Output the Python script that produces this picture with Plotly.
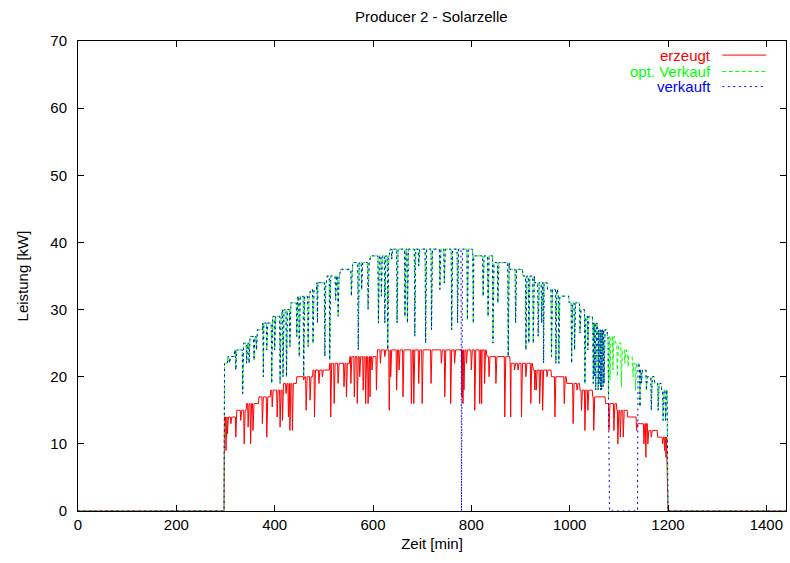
import numpy as np
import plotly.graph_objects as go

MINUTES = 1440

# ---- erzeugt (produced) : step levels [kW] and start minute of each level
RED_START = [298, 321, 343, 368, 392, 417, 445, 478, 512, 553, 608, 831, 879, 925, 963, 994, 1021, 1047, 1073, 1096, 1118, 1136, 1160, 1179]
RED_LEVEL = [14, 15, 16, 17, 18, 19, 20, 21, 22, 23, 24, 23, 22, 21, 20, 19, 18, 17, 16, 15, 14, 13, 12, 11]
RED_END = 1199
# short drops (minute, kW)
RED_DIP_T = [301, 304, 311, 321, 331, 338, 346, 351, 356, 375, 384, 395, 405, 411, 416, 423, 428, 431, 436,
             459, 464, 472, 481, 490, 497, 514, 521, 529, 541, 546,
             555, 562, 568, 573, 580, 585, 590, 594, 598, 607, 615, 624, 633, 636, 648, 653, 661, 678, 683,
             693, 700, 718, 739, 746, 758, 766, 781, 783, 785, 790, 800,
             807, 817, 821, 827, 836, 850, 868, 880, 888, 895, 902, 911, 921, 929, 932, 939, 945, 954, 970,
             989, 1007, 1015, 1024, 1031, 1037, 1049, 1080, 1090, 1098, 1103, 1109, 1136, 1141, 1151, 1155,
             1159, 1166, 1189, 1193, 1196, 1198]
RED_DIP_V = [9, 11.5, 13, 11, 13.5, 10, 12.5, 10, 12, 13, 11, 15.5, 14, 12.5, 13.5, 17.5, 14, 12, 12,
             19.5, 15, 16.5, 14, 19, 20, 14, 16, 19, 18.5, 17,
             19, 17, 16, 20, 18, 16, 16, 17, 21, 18, 22, 23, 15, 20, 18, 21, 17, 16, 16,
             19, 16, 19, 22, 17, 16, 22, 17, 16, 18, 22, 21,
             15, 16, 16, 19, 20, 19, 14, 14, 21, 21, 14, 20, 16, 18, 18, 16, 15, 20, 14,
             16, 13, 18, 15, 12, 15, 12, 12, 12, 10, 11, 11, 12, 13, 10, 8,
             10, 11, 10, 9, 8, 7]

# ---- opt. Verkauf (optimal sale)
GREEN_START = [298, 305, 319, 336, 350, 364, 376, 394, 415, 431, 445, 472, 486, 506, 533, 559, 594, 634,
               803, 844, 878, 905, 929, 955, 976, 999, 1021, 1031, 1047, 1057, 1077, 1092, 1106, 1116,
               1128, 1142, 1157, 1173, 1187]
GREEN_LEVEL = [22, 23, 24, 25, 26, 27, 28, 29, 30, 31, 32, 33, 34, 35, 36, 37, 38, 39,
               38, 37, 36, 35, 34, 33, 32, 31, 30, 29, 28, 27, 26, 25, 24, 23,
               22, 21, 20, 19, 18]
GREEN_END = 1199
GREEN_DIP_T = [308, 321, 335, 343, 348, 358, 363, 377, 384, 394, 400, 411, 417, 424, 431, 445, 450, 459,
               468, 478, 487, 502, 512, 524, 529,
               556, 570, 577, 590, 611, 617, 624, 630, 638, 649, 665, 670, 685, 693, 707, 719, 736, 745,
               760, 772, 792,
               804, 824, 834, 844, 854, 875, 890, 911, 917, 926, 936, 943, 947, 963, 972, 978, 1004,
               1010, 1021, 1031, 1037, 1048, 1050, 1053, 1058, 1060, 1063, 1065, 1068, 1070,
               1079, 1082, 1088, 1097, 1105, 1112, 1119, 1129, 1134, 1143, 1146, 1156, 1166, 1180, 1190, 1195]
GREEN_DIP_V = [22, 21, 17.5, 22, 22, 22.5, 24, 20, 24, 19, 24, 19, 20, 20, 24.5, 26, 23, 20,
               24.5, 25, 28, 23, 22.5, 31.4, 29,
               32, 24, 33, 30, 28, 32, 28, 24, 37.5, 28, 29, 28, 26, 36.5, 25, 27, 33, 34,
               27, 28, 28.5,
               28, 32, 29, 25, 31, 23, 28, 24, 25, 25, 26, 28, 22, 23, 22, 22, 22,
               24, 26.5, 19, 24, 19, 20, 18, 18, 19, 18, 18, 18.5, 19,
               17, 19.5, 21, 20, 18.5, 22, 21.5, 20, 18, 15.5, 19, 18, 15, 15, 13.5, 13.5]

# ---- verkauft (sold): equals opt. Verkauf except where nothing was sold
BLUE_ZERO_T = [780]
BLUE_ZERO_FROM = [1080]
BLUE_ZERO_TO = [1139]

X_TICKS = [0, 200, 400, 600, 800, 1000, 1200, 1400]
Y_TICKS = [0, 10, 20, 30, 40, 50, 60, 70]


def build(starts, levels, end, dip_t, dip_v):
    y = np.zeros(MINUTES)
    for i, s in enumerate(starts):
        e = starts[i + 1] if i + 1 < len(starts) else end
        y[s:e] = levels[i]
    for t, v in zip(dip_t, dip_v):
        y[t] = min(y[t], v)
    return y


t = np.arange(MINUTES)
red = build(RED_START, RED_LEVEL, RED_END, RED_DIP_T, RED_DIP_V)
green = build(GREEN_START, GREEN_LEVEL, GREEN_END, GREEN_DIP_T, GREEN_DIP_V)
blue = green.copy()
for z in BLUE_ZERO_T:
    blue[z] = 0
for a, b in zip(BLUE_ZERO_FROM, BLUE_ZERO_TO):
    blue[a:b] = 0

GREEN_DASH = "4px,2.5px"
BLUE_DASH = "2px,3.5px"

FONT = "Liberation Sans, Arial, Helvetica, sans-serif"
fig = go.Figure()
fig.add_trace(go.Scatter(x=t, y=red, mode="lines", name="erzeugt",
                         line=dict(color="#ff0000", width=1)))
fig.add_trace(go.Scatter(x=t, y=green, mode="lines", name="opt. Verkauf",
                         line=dict(color="#00ff00", width=1, dash=GREEN_DASH)))
fig.add_trace(go.Scatter(x=t, y=blue, mode="lines", name="verkauft",
                         line=dict(color="#0000ff", width=1, dash=BLUE_DASH)))

# gnuplot-like key: right-aligned text, sample to the right
legend = [("erzeugt", "#ff0000", "solid", 0.970),
          ("opt. Verkauf", "#00ff00", GREEN_DASH, 0.935),
          ("verkauft", "#0000ff", BLUE_DASH, 0.903)]
for name, col, dash, yy in legend:
    fig.add_annotation(x=0.895, y=yy, xref="paper", yref="paper", text=name, showarrow=False,
                       xanchor="right", yanchor="middle", borderpad=0,
                       font=dict(color=col, size=15, family=FONT))
    fig.add_shape(type="line", xref="paper", yref="paper", x0=0.910, x1=0.972, y0=yy, y1=yy,
                  line=dict(color=col, width=1, dash=dash))

axis_common = dict(showline=True, linecolor="black", linewidth=1, mirror="allticks",
                   ticks="inside", ticklen=6, tickcolor="black", showgrid=False, zeroline=False,
                   automargin=False,
                   tickfont=dict(size=15, family=FONT, color="black"))
fig.update_xaxes(range=[0, 1440], tickvals=X_TICKS,
                 title=dict(text="Zeit [min]", font=dict(size=15, family=FONT), standoff=6),
                 **axis_common)
fig.update_yaxes(range=[0, 70], tickvals=Y_TICKS, ticklabelstandoff=7,
                 title=dict(text="Leistung [kW]", font=dict(size=15, family=FONT), standoff=18),
                 **axis_common)

fig.update_layout(
    width=790, height=563,
    margin=dict(l=78, r=4, t=41, b=52, autoexpand=False),
    plot_bgcolor="white", paper_bgcolor="white",
    showlegend=False,
    title=dict(text="Producer 2 - Solarzelle", x=0.546, xanchor="center", y=0.97, yanchor="middle",
               yref="container", font=dict(size=15, family=FONT, color="black")),
    font=dict(family=FONT, color="black"),
)
fig.write_html("out.html", config={"displayModeBar": False},
               post_script="document.body.style.margin='0';document.body.style.overflow='hidden';")
